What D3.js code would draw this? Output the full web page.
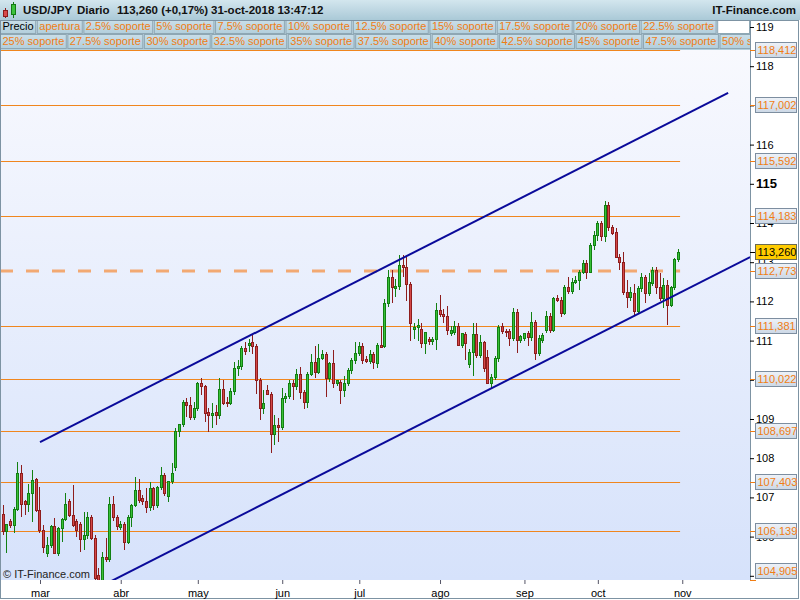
<!DOCTYPE html>
<html><head><meta charset="utf-8">
<script src="https://cdn.jsdelivr.net/npm/d3@7"></script>
<style>body{margin:0;background:#fff}svg{display:block;font-family:"Liberation Sans",Arial,sans-serif}</style>
</head><body><svg id="c" width="800" height="600"></svg>
<script>
// ---------- data ----------
const symbol = "USD/JPY", period = "Diario", lastQuote = "113,260 (+0,17%)", stamp = "31-oct-2018 13:47:12";
const firstDay = "2018-02-15";
const open = [106.57,106.15,106.39,106.29,106.71,107.61,106.91,106.84,107.10,107.46,
106.67,106.17,105.57,105.78,106.27,105.59,106.21,106.45,106.90,106.55,106.40,106.33,105.95,106.03,106.50,105.97,105.02,104.73,105.49,105.42,106.84,106.51,
106.24,106.32,105.85,106.51,106.81,107.19,106.98,106.91,106.75,107.23,106.81,107.27,107.57,107.04,107.43,107.78,108.70,108.87,109.44,109.36,109.06,
109.27,109.91,109.84,109.19,109.10,109.17,109.10,109.76,109.44,109.40,109.71,110.29,110.35,110.80,110.88,110.96,110.86,109.99,109.27,109.74,109.65,108.63,108.85,
108.79,109.53,109.58,109.91,109.83,110.16,109.70,109.44,110.16,110.45,110.21,110.56,110.67,110.04,110.42,109.91,109.95,109.74,109.91,110.25,110.50,
110.69,110.86,110.53,110.49,110.67,110.44,110.88,110.86,111.95,112.63,112.33,112.39,112.93,112.87,112.44,111.29,111.34,111.30,110.93,111.04,110.99,111.04,
111.78,111.68,111.63,111.20,111.23,111.37,110.89,111.17,110.40,110.72,111.18,110.63,110.97,110.59,109.93,110.08,110.55,111.37,111.25,111.25,111.06,111.72,111.02,
111.06,111.19,111.08,111.48,110.68,111.02,111.27,111.63,111.27,112.08,112.04,111.70,112.38,112.27,112.50,112.55,112.76,112.97,112.76,113.44,
113.69,113.99,113.67,114.46,113.91,113.78,113.14,113.01,112.25,112.12,112.21,111.76,112.33,112.61,112.21,112.46,112.80,112.38,112.08,112.42,111.91,112.36,113.07];
const high = [106.80,106.33,106.44,106.75,107.91,107.82,106.94,107.35,107.70,107.50,
107.27,106.29,105.99,106.30,106.47,106.25,106.48,107.10,106.97,107.31,106.45,106.37,106.63,106.63,106.55,106.05,105.20,105.60,105.97,107.00,107.04,106.55,
106.40,106.36,106.55,106.82,107.53,107.48,107.05,107.23,107.40,107.27,107.30,107.78,107.61,107.30,107.87,108.76,108.88,109.48,109.53,109.57,109.44,
109.95,110.04,109.87,109.27,109.40,109.36,110.04,110.00,109.55,109.80,110.45,110.50,110.85,110.97,111.03,111.14,110.92,110.05,109.74,109.87,109.70,109.10,109.02,
109.78,109.66,110.00,109.99,110.27,110.33,109.75,110.20,110.65,110.86,110.91,110.75,110.72,110.45,110.76,110.00,110.00,110.10,110.30,110.55,110.97,
110.97,110.95,110.60,110.75,110.72,110.95,111.37,112.05,112.80,112.80,112.56,113.18,113.18,113.16,112.50,111.45,111.55,111.45,111.20,111.10,111.10,111.95,
112.16,111.80,111.87,111.36,111.50,111.44,111.20,111.22,110.78,111.44,111.44,111.14,111.00,110.76,110.15,110.60,111.40,111.45,111.30,111.30,111.82,111.80,111.15,
111.20,111.25,111.74,111.52,111.15,111.20,111.75,111.70,112.12,112.16,112.12,112.42,112.63,112.60,112.65,112.80,113.05,113.05,113.50,113.80,
114.05,114.05,114.55,114.54,113.95,113.86,113.20,113.27,112.55,112.38,112.45,112.40,112.72,112.68,112.72,112.89,112.89,112.72,112.59,112.55,112.40,113.10,113.33];
const low = [106.04,105.57,106.21,106.10,106.65,106.50,106.55,106.63,106.38,106.63,
106.08,105.57,105.48,105.70,105.56,105.50,105.86,106.40,106.50,106.25,106.00,105.61,105.65,105.95,105.92,104.90,104.63,104.63,105.35,105.35,106.40,106.17,
106.16,105.66,105.80,106.25,106.75,106.85,106.80,106.61,106.65,106.68,106.74,107.20,107.04,106.89,107.35,107.67,108.55,108.80,109.05,108.97,108.98,
109.20,109.61,108.93,108.68,108.76,108.85,109.00,109.35,109.30,109.35,109.62,110.10,110.25,110.63,110.70,110.65,109.65,108.97,109.14,109.60,108.12,108.33,108.42,
108.72,109.40,109.50,109.48,109.75,109.50,109.25,109.27,110.10,110.04,110.15,110.50,109.57,109.95,109.80,109.85,109.38,109.55,109.85,110.15,110.40,
110.60,110.40,110.43,110.40,110.27,110.30,110.80,110.80,111.85,111.95,112.10,112.30,112.62,112.00,111.00,111.05,111.00,110.80,110.67,110.90,110.90,110.76,
111.60,111.45,111.15,111.12,111.15,110.85,110.82,110.50,110.30,110.10,110.55,110.55,110.20,109.91,109.80,110.00,110.45,111.18,111.10,110.85,111.00,110.68,110.95,
110.98,110.85,111.00,110.50,110.60,110.95,111.20,111.20,111.22,111.98,111.60,111.65,112.20,112.20,112.45,112.30,112.70,112.58,112.72,113.30,
113.55,113.55,113.52,113.80,113.70,113.10,112.80,112.16,111.82,112.00,111.65,111.70,112.25,111.95,112.15,112.40,112.20,112.00,111.82,111.40,111.85,112.30,113.00];
const close = [106.15,106.31,106.29,106.71,107.61,106.84,106.84,107.10,107.44,106.67,
106.16,105.74,105.78,106.27,105.59,106.21,106.45,106.84,106.55,106.29,106.18,105.95,106.03,106.50,105.97,104.95,104.73,105.47,105.42,106.84,106.51,106.28,
106.32,105.85,106.51,106.81,107.19,106.93,106.91,106.75,107.23,106.81,107.27,107.57,107.12,107.42,107.63,108.70,108.87,109.44,109.36,109.06,109.27,
109.91,109.84,109.16,109.10,109.16,109.10,109.76,109.42,109.40,109.71,110.29,110.35,110.80,110.74,110.95,110.86,109.99,109.27,109.40,109.65,108.63,108.85,108.79,
109.53,109.58,109.91,109.83,110.16,109.70,109.44,110.16,110.45,110.21,110.56,110.67,110.04,110.42,109.91,109.99,109.74,109.91,110.25,110.50,110.69,
110.86,110.50,110.49,110.67,110.46,110.88,110.84,111.95,112.63,112.37,112.39,112.93,112.87,112.44,111.46,111.34,111.40,110.93,111.23,110.99,111.04,111.78,
111.68,111.63,111.27,111.27,111.37,110.89,111.19,110.93,110.72,111.18,110.63,110.97,110.30,109.93,110.08,110.55,111.35,111.25,111.21,111.06,111.72,111.02,111.12,
111.19,111.08,111.48,110.68,111.06,111.14,111.63,111.27,112.08,112.04,111.70,112.38,112.27,112.50,112.55,112.76,112.97,112.76,113.44,113.69,
113.99,113.67,114.46,113.91,113.74,113.14,113.01,112.25,112.12,112.23,111.76,112.33,112.61,112.21,112.50,112.80,112.38,112.08,112.42,111.91,112.36,113.07,113.26];
const lastPrice = 113.26;
const levels = [118.412,117.002,115.592,114.183,112.773,111.381,110.022,108.697,107.403,106.139,104.905];
const dashedLevel = 112.773;
const priceTicks = [105,106,107,108,109,110,111,112,113,114,115,116,117,118,119];
const boldTick = 115;
const monthLabels = ["mar","abr","may","jun","jul","ago","sep","oct","nov"];
// trend channel: [candle index, price]
const trendUpper = [[10,108.41],[197.5,117.32]];
const trendLower = [[25,104.655],[203.5,113.13]];
const legendRow1 = ["Precio","apertura","2.5% soporte","5% soporte","7.5% soporte","10% soporte","12.5% soporte","15% soporte","17.5% soporte","20% soporte","22.5% soporte"];
const legendRow2 = ["25% soporte","27.5% soporte","30% soporte","32.5% soporte","35% soporte","37.5% soporte","40% soporte","42.5% soporte","45% soporte","47.5% soporte","50% soporte"];
const brand = "IT-Finance.com", copyright = "\u00A9 IT-Finance.com";

// ---------- dates (trading days) ----------
const dates = [];
{ let d = new Date(firstDay + "T00:00:00Z");
  while (dates.length < close.length + 1) { const wd = d.getUTCDay(); if (wd !== 0 && wd !== 6) dates.push(new Date(d)); d = new Date(d.getTime() + 86400000); } }
const monthIdx = [];
for (let i = 1; i < dates.length; i++) if (dates[i].getUTCMonth() !== dates[i-1].getUTCMonth()) monthIdx.push(i);

// ---------- layout ----------
const svg = d3.select("#c");
const plot = {l:1, r:750, t:50, b:580};
const x = d3.scaleLinear().domain([0, close.length]).range([3.3, 3.3 + 3.67*close.length]);
const y = d3.scaleLinear().domain([105,119]).range([575.8, 27]);
const loc = d3.formatLocale({decimal:",", thousands:".", grouping:[3], currency:["",""]});
const f3 = loc.format(".3f");
const ORANGE = "#f07d14", LINE = "#f0861e", FRAME = "#7d93a3";

const defs = svg.append("defs");
const g1 = defs.append("linearGradient").attr("id","bg").attr("x1",0).attr("x2",0).attr("y1",0).attr("y2",1);
g1.append("stop").attr("offset","0").attr("stop-color","#f8f9fe");
g1.append("stop").attr("offset","1").attr("stop-color","#d6e2fb");
const g2 = defs.append("linearGradient").attr("id","hdr").attr("x1",0).attr("x2",0).attr("y1",0).attr("y2",1);
g2.append("stop").attr("offset","0").attr("stop-color","#d3e6ee");
g2.append("stop").attr("offset","1").attr("stop-color","#aac9d7");
const g3 = defs.append("linearGradient").attr("id","box").attr("x1",0).attr("x2",0).attr("y1",0).attr("y2",1);
g3.append("stop").attr("offset","0").attr("stop-color","#eef2f8");
g3.append("stop").attr("offset","1").attr("stop-color","#ccd8e6");
const g4 = defs.append("linearGradient").attr("id","leg").attr("x1",0).attr("x2",0).attr("y1",0).attr("y2",1);
g4.append("stop").attr("offset","0").attr("stop-color","#c9dee8");
g4.append("stop").attr("offset","1").attr("stop-color","#b3cfdc");
defs.append("clipPath").attr("id","clip").append("rect").attr("x",plot.l).attr("y",plot.t).attr("width",plot.r-plot.l).attr("height",plot.b-plot.t);

// background
svg.append("rect").attr("width",800).attr("height",600).attr("fill","#fff");
svg.append("rect").attr("x",plot.l).attr("y",plot.t).attr("width",plot.r-plot.l).attr("height",plot.b-plot.t).attr("fill","url(#bg)");

// header
svg.append("rect").attr("x",0).attr("y",0).attr("width",800).attr("height",20).attr("fill","url(#hdr)");
const icon = svg.append("g");
icon.append("line").attr("x1",5.5).attr("x2",5.5).attr("y1",8).attr("y2",18).attr("stroke","#8b1c1c");
icon.append("rect").attr("x",3.5).attr("y",10.5).attr("width",4).attr("height",6).attr("fill","#d84a4a").attr("stroke","#8b1c1c");
icon.append("line").attr("x1",13.5).attr("x2",13.5).attr("y1",2).attr("y2",18).attr("stroke","#137a13");
icon.append("rect").attr("x",11.5).attr("y",4.5).attr("width",4).attr("height",10).attr("fill","#3cc23c").attr("stroke","#137a13");
const hdrT = [[symbol,23],[period,77],[lastQuote,117],[stamp,211]];
svg.selectAll("text.hdr").data(hdrT).join("text").attr("class","hdr").attr("x",d=>d[1]).attr("y",14)
  .attr("font-size",11.5).attr("font-weight","bold").attr("fill","#111").text(d=>d[0]);
svg.append("text").attr("x",796).attr("y",14).attr("text-anchor","end").attr("font-size",11.5).attr("font-weight","bold").attr("fill","#111").text(brand);

// legend rows
svg.append("rect").attr("x",0).attr("y",20).attr("width",750).attr("height",30).attr("fill","url(#leg)");
function legendRow(items, y0, h) {
  let xp = 0;
  const g = svg.append("g");
  items.forEach((t,i) => {
    const tx = g.append("text").attr("x", xp+2.5).attr("y", y0+h-3).attr("font-size",11)
      .attr("fill", t==="Precio" ? "#000" : ORANGE).text(t);
    const w = tx.node().getComputedTextLength() + 4;
    g.insert("rect","text").attr("x",xp+0.5).attr("y",y0+0.5).attr("width",w).attr("height",h)
      .attr("fill","url(#leg)").attr("stroke","#8ea7b4");
    xp += w + 1.6;
  });
  return xp;
}
const end1 = legendRow(legendRow1, 20, 13);
svg.append("rect").attr("x",end1+0.5).attr("y",20.5).attr("width",750-end1-1).attr("height",13).attr("fill","#fff").attr("stroke","#8ea7b4");
legendRow(legendRow2, 34, 14);
// right column white over row overflow
svg.append("rect").attr("x",751).attr("y",20).attr("width",49).attr("height",580).attr("fill","#fff");

// plot layer
const P = svg.append("g").attr("clip-path","url(#clip)");
const xEnd = x(close.length-1) + 1.5;
P.selectAll("line.lvl").data(levels.filter(v=>v!==dashedLevel)).join("line").attr("class","lvl")
  .attr("x1",plot.l).attr("x2",xEnd).attr("y1",d=>Math.round(y(d))+0.5).attr("y2",d=>Math.round(y(d))+0.5)
  .attr("stroke",LINE).attr("stroke-width",1);
P.append("line").attr("x1",0).attr("x2",xEnd).attr("y1",y(dashedLevel)).attr("y2",y(dashedLevel))
  .attr("stroke","#f3a264").attr("stroke-width",3).attr("stroke-dasharray","13,13").attr("opacity",0.9);

// candles
const idx = d3.range(close.length);
const cg = P.append("g");
idx.forEach(i => {
  const up = close[i] >= open[i];
  const dark = up ? "#128012" : "#8e1d1d", fill = up ? "#38c038" : "#d44848";
  const left = Math.round(x(i) - 1.5);
  cg.append("line").attr("x1",left+1.5).attr("x2",left+1.5).attr("y1",Math.round(y(high[i]))).attr("y2",Math.round(y(low[i])))
    .attr("stroke",dark).attr("stroke-width",1);
  const top = Math.round(y(Math.max(open[i],close[i]))), bot = Math.round(y(Math.min(open[i],close[i])));
  cg.append("rect").attr("x",left+0.5).attr("y",top+0.5).attr("width",2).attr("height",Math.max(bot-top,1))
    .attr("fill",fill).attr("stroke",dark).attr("stroke-width",1);
});

// trend channel
const tl = d3.line().x(d=>x(d[0])).y(d=>y(d[1]));
[trendUpper, trendLower].forEach(t => P.append("path").attr("d",tl(t)).attr("fill","none").attr("stroke","#0a0a9a").attr("stroke-width",2));

// copyright
svg.append("text").attr("x",3).attr("y",578).attr("font-size",11).attr("fill","#222").text(copyright);

// frame
svg.append("line").attr("x1",750.5).attr("x2",750.5).attr("y1",20).attr("y2",580).attr("stroke",FRAME);
svg.append("rect").attr("x",0.5).attr("y",20.5).attr("width",798).attr("height",578).attr("fill","none").attr("stroke",FRAME);

// bottom axis
const xAxis = d3.axisBottom(x).tickValues(monthIdx).tickFormat((d,i)=>monthLabels[i]).tickSize(4).tickSizeOuter(0);
const xg = svg.append("g").attr("transform","translate(0,580)").call(xAxis);
xg.select(".domain").remove();
xg.selectAll(".tick line").attr("stroke","#556");
xg.selectAll(".tick text").attr("font-size",11).attr("font-family","Liberation Sans, Arial, sans-serif").attr("fill","#000").attr("dy","0.9em");

// right axis (labels fully covered by a level box are not drawn)
const allBoxes = levels.concat([lastPrice]).map(v => Math.min(Math.round(y(v)), 571));
const hidden = v => allBoxes.some(c => Math.abs(c - y(v)) < 5.5);
const yAxis = d3.axisRight(y).tickValues(priceTicks).tickFormat(d => hidden(d) ? "" : d3.format("d")(d)).tickSize(4).tickSizeOuter(0);
const yg = svg.append("g").attr("transform","translate(750,0)").call(yAxis);
yg.select(".domain").remove();
yg.selectAll(".tick line").attr("stroke","#000");
yg.selectAll(".tick text").attr("x",6).attr("font-family","Liberation Sans, Arial, sans-serif")
  .attr("font-size",d=>d===boldTick?13:11).attr("font-weight",d=>d===boldTick?"bold":"normal").attr("fill","#000");

// level label boxes
const lb = svg.append("g");
levels.forEach(v => {
  const yy = Math.round(y(v));
  const cy = Math.min(yy, 571);
  lb.append("line").attr("x1",750).attr("x2",756).attr("y1",yy+0.5).attr("y2",yy+0.5).attr("stroke",ORANGE);
  lb.append("rect").attr("x",755.5).attr("y",cy-7.5).attr("width",41).attr("height",15).attr("fill","url(#box)").attr("stroke","#7d8ea0");
  lb.append("text").attr("x",757.5).attr("y",cy+4).attr("font-size",11).attr("fill",ORANGE).text(f3(v));
});
// last price box
{ const yy = Math.round(y(lastPrice));
  lb.append("line").attr("x1",750).attr("x2",756).attr("y1",yy+0.5).attr("y2",yy+0.5).attr("stroke","#000");
  lb.append("rect").attr("x",755.5).attr("y",yy-7.5).attr("width",41).attr("height",15).attr("fill","#ffcc00").attr("stroke","#6b6b50");
  lb.append("text").attr("x",757.5).attr("y",yy+4).attr("font-size",11).attr("fill","#000").text(f3(lastPrice)); }
</script></body></html>
